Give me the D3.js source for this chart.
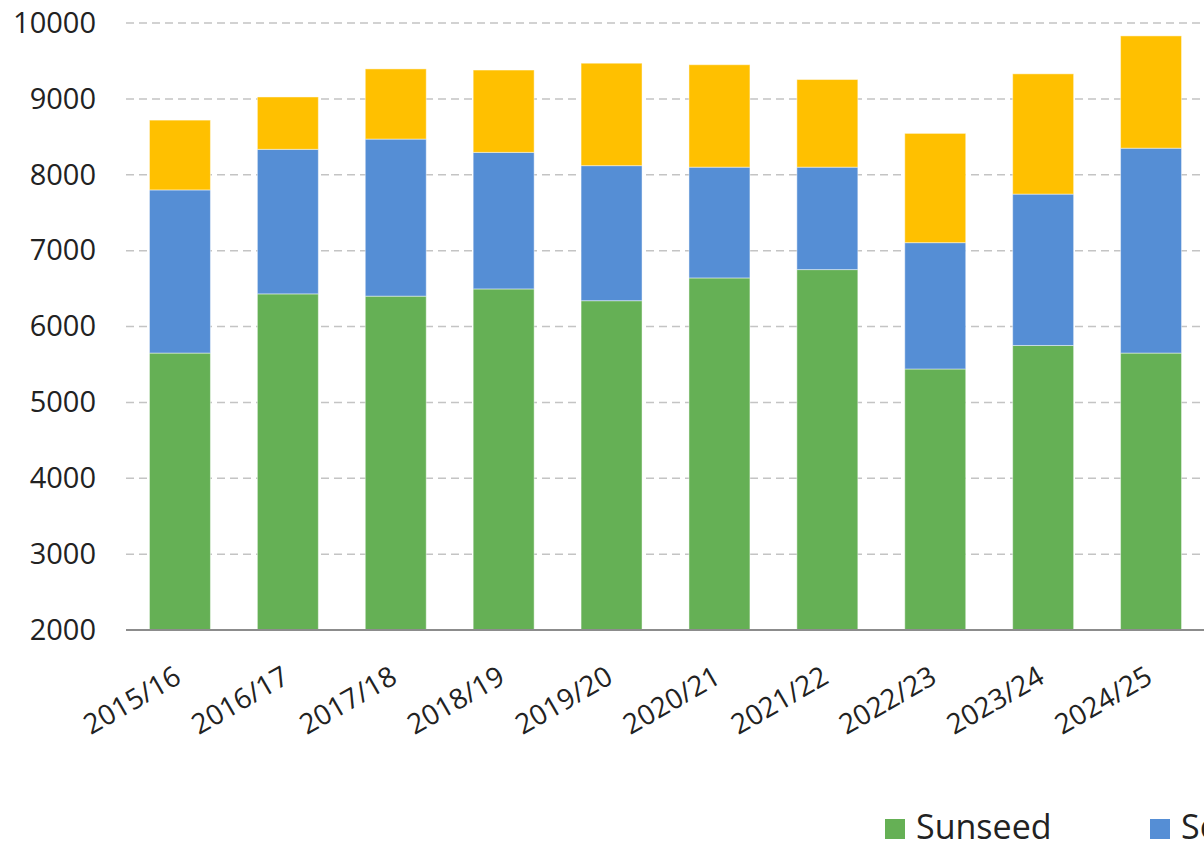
<!DOCTYPE html>
<html>
<head>
<meta charset="utf-8">
<script src="https://cdn.jsdelivr.net/npm/d3@7"></script>
<style>
  html, body { margin: 0; padding: 0; background: #fff; overflow: hidden; }
  svg { display: block; font-family: "Open Sans", sans-serif; }
</style>
</head>
<body>
<div id="chart"></div>
<script>
// values (stacked bottom to top)
const seasons = ['2015/16', '2016/17', '2017/18', '2018/19', '2019/20',
                 '2020/21', '2021/22', '2022/23', '2023/24', '2024/25'];
const sunseed  = [5650, 6430, 6400, 6495, 6340, 6640, 6750, 5440, 5750, 5650];
const soybean  = [2150, 1905, 2070, 1800, 1780, 1460, 1350, 1665, 1995, 2700];
const rapeseed = [920, 690, 925, 1085, 1350, 1350, 1155, 1440, 1585, 1480];
const seriesNames = ['Sunseed', 'Soybean', 'Rapeseed'];
const yTicks = [2000, 3000, 4000, 5000, 6000, 7000, 8000, 9000, 10000];

const width = 1204, height = 853;
const plotLeft = 126, plotRight = 1205, plotTop = 23, plotBottom = 630;
const colors = d3.scaleOrdinal().domain(seriesNames).range(['#65b055', '#558ed5', '#ffc000']);

const rows = seasons.map((s, i) => ({
  season: s, Sunseed: sunseed[i], Soybean: soybean[i], Rapeseed: rapeseed[i]
}));
const stacked = d3.stack().keys(seriesNames)(rows);

const svg = d3.select('#chart').append('svg')
  .attr('width', width).attr('height', height);

const x = d3.scaleBand().domain(seasons).range([plotLeft, plotRight])
  .paddingInner(0.435).paddingOuter(0.2175);
const y = d3.scaleLinear().domain([2000, 10000]).range([plotBottom, plotTop]);

// grid lines
svg.append('g').selectAll('line')
  .data(yTicks.filter(d => d > 2000))
  .join('line')
  .attr('x1', plotLeft).attr('x2', width)
  .attr('y1', d => y(d)).attr('y2', d => y(d))
  .attr('stroke', '#c4c4c4').attr('stroke-width', 1.5)
  .attr('stroke-dasharray', '8,5');

// y axis labels
const axisY = svg.append('g').attr('transform', `translate(${plotLeft},0)`)
  .call(d3.axisLeft(y).tickValues(yTicks).tickSize(0).tickPadding(30).tickFormat(d3.format('d')));
axisY.select('.domain').remove();
axisY.selectAll('text')
  .attr('font-family', '"Open Sans", sans-serif')
  .style('font-size', '29px').attr('fill', '#222');

// bars
svg.append('g').selectAll('g')
  .data(stacked)
  .join('g')
  .attr('fill', d => colors(d.key))
  .selectAll('rect')
  .data(d => d)
  .join('rect')
  .attr('x', d => x(d.data.season))
  .attr('width', x.bandwidth())
  .attr('y', d => y(d[1]))
  .attr('height', d => y(d[0] < 2000 ? 2000 : d[0]) - y(d[1]))
  .attr('stroke', 'rgba(255,255,255,0.45)').attr('stroke-width', 1);

// x axis
const axisX = svg.append('g').attr('transform', `translate(0,${plotBottom})`)
  .call(d3.axisBottom(x).tickSize(0).tickPadding(0));
axisX.select('.domain').remove();
svg.append('line')
  .attr('x1', plotLeft).attr('x2', width)
  .attr('y1', plotBottom).attr('y2', plotBottom)
  .attr('stroke', '#8c8c8c').attr('stroke-width', 2);
axisX.selectAll('text')
  .attr('font-family', '"Open Sans", sans-serif')
  .style('font-size', '28px').attr('fill', '#222')
  .attr('text-anchor', 'end')
  .attr('dy', 0).attr('y', 0)
  .attr('transform', 'translate(3,52) rotate(-30)');

// legend
const legend = svg.append('g').selectAll('g')
  .data(seriesNames)
  .join('g')
  .attr('transform', (d, i) => `translate(${885 + i * 265},819)`);
legend.append('rect')
  .attr('width', 20).attr('height', 20)
  .attr('fill', d => colors(d));
legend.append('text')
  .attr('x', 31).attr('y', 20)
  .style('font-size', '34px').attr('fill', '#222')
  .text(d => d);
</script>
</body>
</html>
